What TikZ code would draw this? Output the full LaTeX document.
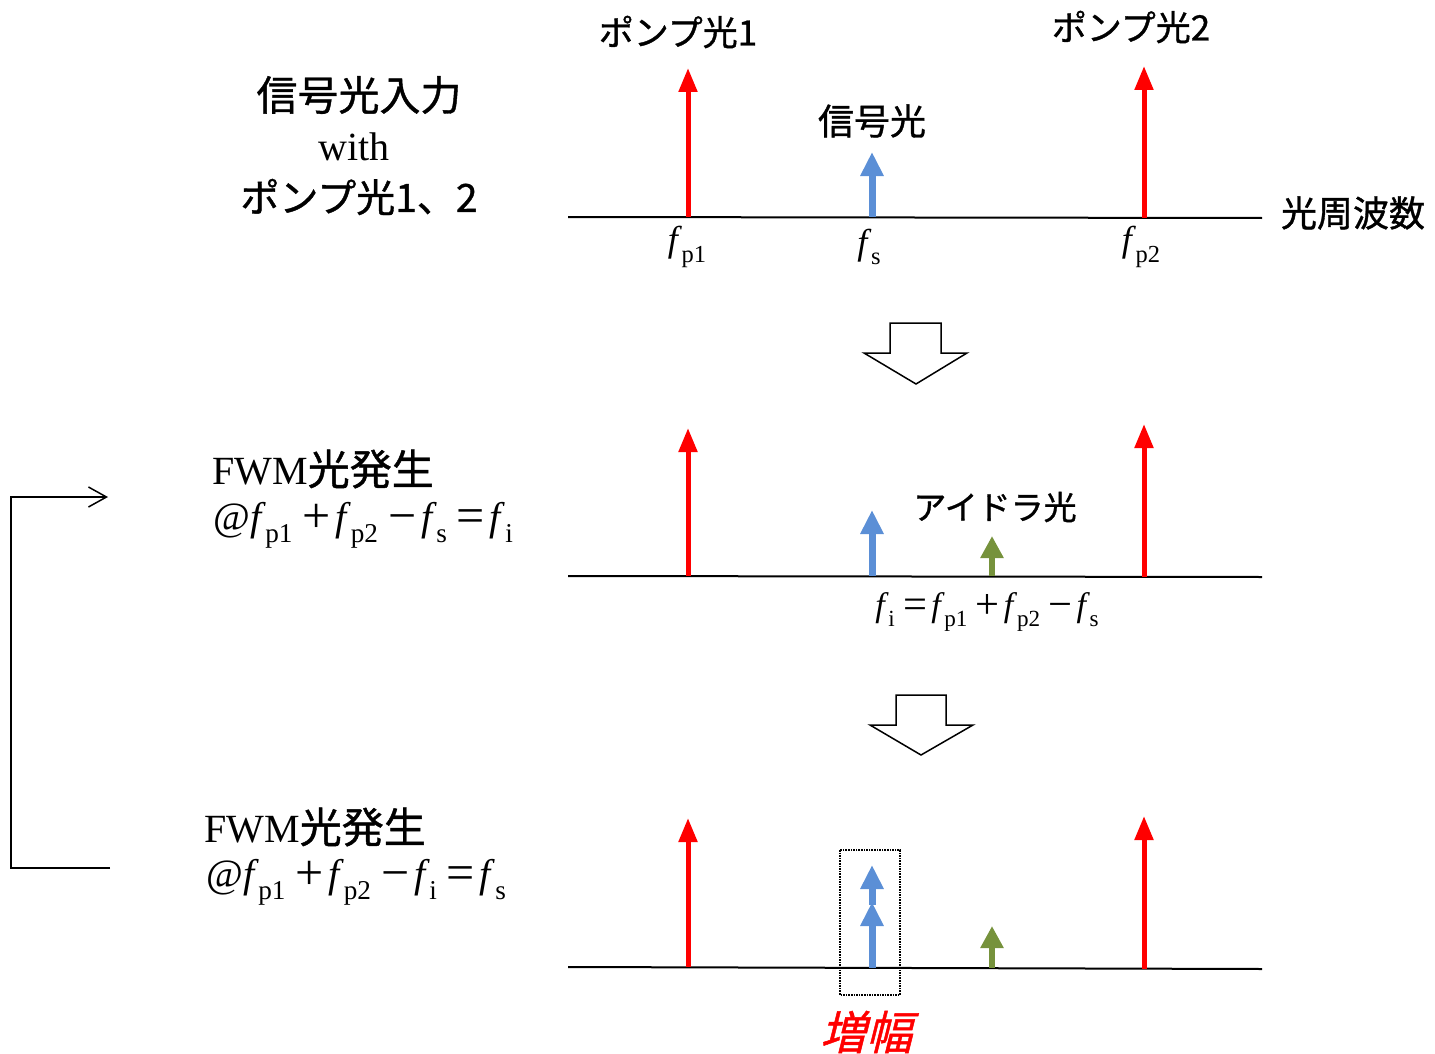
\documentclass[tikz,border=0pt]{standalone}
\usepackage{fontspec}
\usepackage{graphicx}
\setmainfont{Liberation Serif}
\newfontfamily\jp[FakeBold=1.0]{Noto Sans CJK JP}
\newfontfamily\jpit[FakeSlant=0.25,FakeBold=1.0]{Noto Sans CJK JP}
\usetikzlibrary{arrows.meta}
\definecolor{pumpred}{RGB}{255,0,0}
\definecolor{sigblue}{RGB}{91,143,214}
\definecolor{idlgreen}{RGB}{118,146,60}
\newcommand\fsub[1]{\textit{f}\kern-0.01em\raisebox{-0.3em}{\scalebox{0.68}{#1}}}
\newcommand\op[1]{\kern0.25em\raisebox{-0.05em}{\scalebox{1.25}{#1}}\kern0.12em}
\newcommand\fsz[1]{\fontsize{#1}{#1}\selectfont}
\tikzset{
  pump/.style={draw=pumpred, line width=5pt, -{Triangle[length=24pt,width=18pt]}},
  sig/.style={draw=sigblue, line width=7pt, -{Triangle[length=24pt,width=22pt]}},
  idl/.style={draw=idlgreen, line width=6pt, -{Triangle[length=22pt,width=22pt]}},
  axisline/.style={draw=black, line width=2pt},
  bigarrow/.style={draw=black, line width=1.5pt, fill=white, line join=miter},
  fb/.style={draw=black, line width=1.5pt, -{Straight Barb[length=18pt,width=20pt,line width=1.5pt]}},
  lbl/.style={inner sep=0pt, anchor=center},
  jpl/.style={lbl, font=\jp\fsz{35pt}},
  ttl/.style={lbl, font=\fsz{40pt}},
  fl/.style={lbl, font=\fsz{36pt}},
}
\begin{document}
\begin{tikzpicture}[x=1pt,y=-1pt]
\useasboundingbox (0,0) rectangle (1435,1054);

% ---------- top panel ----------
\coordinate (a1L) at (568,217);
\coordinate (a1R) at (1262,218);
\draw[axisline] (a1L) -- (a1R);
\coordinate (p1b) at (688,217); \coordinate (p1t) at (688,68);
\coordinate (p2b) at (1144,218); \coordinate (p2t) at (1144,66);
\coordinate (sb) at (872,217); \coordinate (st) at (872,152);
\draw[pump] (p1b) -- (p1t);
\draw[pump] (p2b) -- (p2t);
\draw[sig] (sb) -- (st);

\node[jpl] (tp1) at (678,32) {ポンプ光1};
\node[jpl] (tp2) at (1131,27) {ポンプ光2};
\node[jpl, font=\jp\fsz{36pt}] (tsig) at (872,121) {信号光};
\node[jpl, font=\jp\fsz{36pt}] (tfreq) at (1353,213) {光周波数};
\node[fl] (lfp1) at (687,247) {\fsub{p1}};
\node[fl] (lfs) at (869,247) {\fsub{s}};
\node[fl] (lfp2) at (1141,247) {\fsub{p2}};

\node[lbl, font=\jp\fsz{41pt}] (t1a) at (359,95) {信号光入力};
\node[ttl] (t1b) at (354,147) {with};
\node[lbl, font=\jp\fsz{39pt}] (t1c) at (359,197) {ポンプ光1、2};

% ---------- big arrow 1 ----------
\draw[bigarrow] (890,323) -- (941,323) -- (941,353) -- (967,353) -- (916,384) -- (864,353) -- (890,353) -- cycle;

% ---------- middle panel ----------
\coordinate (a2L) at (568,576);
\coordinate (a2R) at (1262,577);
\draw[axisline] (a2L) -- (a2R);
\coordinate (q1b) at (688,576); \coordinate (q1t) at (688,428);
\coordinate (q2b) at (1144,577); \coordinate (q2t) at (1144,424);
\coordinate (qsb) at (872,576); \coordinate (qst) at (872,510);
\coordinate (qib) at (992,576); \coordinate (qit) at (992,536);
\draw[pump] (q1b) -- (q1t);
\draw[pump] (q2b) -- (q2t);
\draw[sig] (qsb) -- (qst);
\draw[idl] (qib) -- (qit);
\node[jpl, font=\jp\fsz{33pt}] (tidl) at (995,507) {アイドラ光};
\node[lbl, font=\fsz{34pt}] (fmid) at (987,612) {\fsub{i}\op{=}\fsub{p1}\op{+}\fsub{p2}\op{−}\fsub{s}};

\node[lbl, anchor=west, font=\fsz{40pt}] (t2a) at (212,469) {FWM{\jp\fsz{42pt}光発生}};
\node[lbl, anchor=west, font=\fsz{40pt}] (t2b) at (213,525) {@\fsub{p1}\op{+}\fsub{p2}\op{−}\fsub{s}\op{=}\fsub{i}};

% ---------- big arrow 2 ----------
\draw[bigarrow] (896,695) -- (946,695) -- (946,725) -- (973,725) -- (921,755) -- (870,725) -- (896,725) -- cycle;

% ---------- bottom panel ----------
\coordinate (a3L) at (568,967);
\coordinate (a3R) at (1262,969);
\draw[axisline] (a3L) -- (a3R);
\coordinate (r1b) at (688,967); \coordinate (r1t) at (688,818);
\coordinate (r2b) at (1144,969); \coordinate (r2t) at (1144,816);
\coordinate (rsb) at (872,968); \coordinate (rst) at (872,902);
\coordinate (rs2b) at (872,905); \coordinate (rs2t) at (872,865);
\coordinate (rib) at (992,968); \coordinate (rit) at (992,926);
\draw[pump] (r1b) -- (r1t);
\draw[pump] (r2b) -- (r2t);
\draw[sig] (rsb) -- (rst);
\draw[sig] (rs2b) -- (rs2t);
\draw[idl] (rib) -- (rit);
\draw[black, line width=1.6pt, densely dotted] (840,850) rectangle (900,995);
\node[lbl, font=\jpit\fsz{46pt}, text=pumpred] (tamp) at (866,1032) {増幅};

\node[lbl, anchor=west, font=\fsz{40pt}] (t3a) at (204,827) {FWM{\jp\fsz{42pt}光発生}};
\node[lbl, anchor=west, font=\fsz{40pt}] (t3b) at (206,882) {@\fsub{p1}\op{+}\fsub{p2}\op{−}\fsub{i}\op{=}\fsub{s}};

% ---------- feedback connector ----------
\coordinate (fbA) at (110,868);
\coordinate (fbC) at (11,868);
\coordinate (fbD) at (11,497);
\coordinate (fbB) at (108,497);
\draw[fb] (fbA) -- (fbC) -- (fbD) -- (fbB);
\end{tikzpicture}
\end{document}
